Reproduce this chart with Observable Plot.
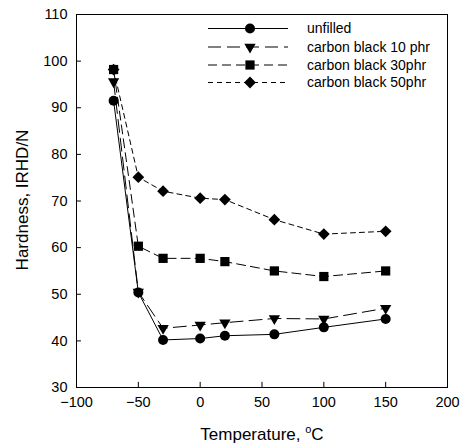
<!DOCTYPE html>
<html>
<head>
<meta charset="utf-8">
<script src="https://cdn.jsdelivr.net/npm/d3@7"></script>
<script src="https://cdn.jsdelivr.net/npm/@observablehq/plot@0.6"></script>
<style>
  html, body { margin: 0; padding: 0; background: #fff; }
  #chart { position: relative; width: 466px; height: 445px; }
  svg { font-family: "Liberation Sans", Arial, sans-serif; }
</style>
</head>
<body>
<div id="chart"></div>
<script>
const temps = [-70, -50, -30, 0, 20, 60, 100, 150];
const unfilled = [91.5, 50.4, 40.2, 40.5, 41.1, 41.4, 42.9, 44.7];
const cb10 = [95.6, 50.5, 42.7, 43.4, 43.9, 44.8, 44.7, 47.0];
const cb30 = [98.2, 60.3, 57.7, 57.7, 57.0, 55.0, 53.8, 55.0];
const cb50 = [98.2, 75.1, 72.1, 70.6, 70.3, 66.0, 62.9, 63.5];

const seriesNames = ["unfilled", "carbon black 10 phr", "carbon black 30phr", "carbon black 50phr"];
const seriesValues = [unfilled, cb10, cb30, cb50];
const xTicks = [-100, -50, 0, 50, 100, 150, 200];
const yTicks = [30, 40, 50, 60, 70, 80, 90, 100, 110];

const styles = [
  {symbol: "circle", r: 5, rotate: 0, dash: null},
  {symbol: "triangle", r: 4.2, rotate: 180, dash: "13,6"},
  {symbol: "square", r: 5.2, rotate: 0, dash: "9,5"},
  {symbol: "diamond2", r: 5.3, rotate: 0, dash: "5,4"}
];

const W = 466, H = 445;
const mL = 76, mR = 19, mT = 14, mB = 58;

const marks = [];
seriesValues.forEach((vals, i) => {
  const data = temps.map((t, j) => ({t, v: vals[j]}));
  const s = styles[i];
  marks.push(Plot.line(data, {x: "t", y: "v", stroke: "black", strokeWidth: 1, strokeDasharray: s.dash}));
  marks.push(Plot.dot(data, {x: "t", y: "v", symbol: s.symbol, r: s.r, rotate: s.rotate, fill: "black", stroke: "none"}));
});
marks.push(Plot.frame({stroke: "black", strokeWidth: 1}));
// inward ticks
marks.push(Plot.ruleX(xTicks, {x: d => d, y1: 30, y2: 31.1, stroke: "black"}));
marks.push(Plot.ruleY(yTicks, {y: d => d, x1: -100, x2: -96, stroke: "black"}));

const plot = Plot.plot({
  width: W, height: H,
  marginLeft: mL, marginRight: mR, marginTop: mT, marginBottom: mB,
  style: {fontFamily: "Liberation Sans, Arial, sans-serif", fontSize: "14px", background: "white", color: "black"},
  x: {domain: [-100, 200], ticks: xTicks, tickSize: 0, tickPadding: 9, label: null},
  y: {domain: [30, 110], ticks: yTicks, tickSize: 0, tickPadding: 9, label: null},
  marks
});
document.getElementById("chart").appendChild(plot);

const svg = d3.select(plot);
svg.selectAll("[aria-label='x-axis tick label'] text, [aria-label='y-axis tick label'] text").style("font-size", "14.5px");

// axis titles
const xt = svg.append("text")
  .attr("x", 262).attr("y", 440)
  .attr("text-anchor", "middle")
  .style("font-size", "17px").attr("fill", "black");
xt.append("tspan").text("Temperature, ");
xt.append("tspan").attr("dy", -7).style("font-size", "11px").text("o");
xt.append("tspan").attr("dy", 7).text("C");

svg.append("text")
  .attr("transform", "translate(28,200) rotate(-90)")
  .attr("text-anchor", "middle")
  .style("font-size", "17px").attr("fill", "black")
  .text("Hardness, IRHD/N");

// legend
const lg = svg.append("g");
const rowsY = [28.5, 47, 65, 82.5];
const symMap = {circle: d3.symbolCircle, triangle: d3.symbolTriangle, square: d3.symbolSquare, diamond2: d3.symbolDiamond2};
seriesNames.forEach((name, i) => {
  const s = styles[i];
  const y = rowsY[i];
  lg.append("line").attr("x1", 208).attr("x2", 288).attr("y1", y).attr("y2", y)
    .attr("stroke", "black").attr("stroke-width", 1)
    .attr("stroke-dasharray", s.dash);
  lg.append("path")
    .attr("d", d3.symbol(symMap[s.symbol], Math.PI * s.r * s.r)())
    .attr("transform", `translate(250,${y}) rotate(${s.rotate})`)
    .attr("fill", "black");
  lg.append("text").attr("x", 307).attr("y", y).attr("dy", "0.35em")
    .attr("text-anchor", "start")
    .style("font-size", "14px").attr("fill", "black").text(name);
});
</script>
</body>
</html>
